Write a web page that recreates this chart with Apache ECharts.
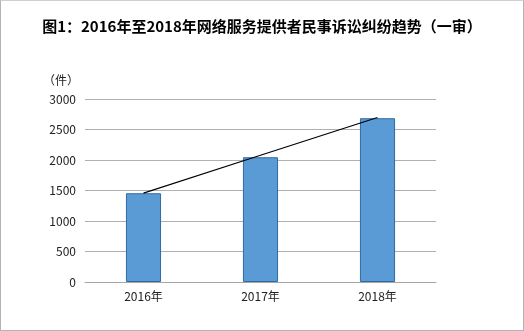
<!DOCTYPE html>
<html><head><meta charset="utf-8">
<script src="https://cdn.jsdelivr.net/npm/echarts@6/dist/echarts.min.js"></script>
<style>html,body{margin:0;padding:0;background:#fff}#c{width:524px;height:331px;box-sizing:border-box;border:1px solid #b4b4b4;border-top-color:#d0d0d0}</style>
</head><body><div id="c"></div>
<script>
const categories = ['2016年', '2017年', '2018年'];
const caseCounts = [1455, 2045, 2685];
const trendValues = [1458, 2078, 2697];
const yTicks = { min: 0, max: 3000, interval: 500 };
const titleText = '图1：2016年至2018年网络服务提供者民事诉讼纠纷趋势（一审）';
const unitLabel = '（件）';

const chart = echarts.init(document.getElementById('c'), null, {renderer: 'canvas'});
const font = '"Noto Sans CJK SC", "Noto Sans", sans-serif';
chart.setOption({
  animation: false,
  title: { text: titleText, left: 'center', top: 13,
    textStyle: { fontFamily: font, fontSize: 15, fontWeight: 'bold', color: '#000' } },
  grid: { left: 84, right: 87, top: 98, bottom: 48 },
  xAxis: { type: 'category', data: categories,
    axisLine: { lineStyle: { color: '#a6a6a6' } }, axisTick: { show: false },
    axisLabel: { color: '#222', fontFamily: font, fontSize: 12, margin: 8 } },
  yAxis: { type: 'value', min: yTicks.min, max: yTicks.max, interval: yTicks.interval,
    name: unitLabel, nameLocation: 'end', nameGap: 13,
    nameTextStyle: { color: '#222', fontFamily: font, fontSize: 12, align: 'right', padding: [0, 6, 0, 0] },
    axisLine: { show: false }, axisTick: { show: false },
    axisLabel: { color: '#222', fontFamily: font, fontSize: 12, margin: 9, formatter: v => String(v) },
    splitLine: { lineStyle: { color: '#b0b0b0' } } },
  series: [
    { type: 'bar', data: caseCounts, barWidth: '30%',
      itemStyle: { color: '#5b9bd5', borderColor: '#2f6aa6', borderWidth: 1 } },
    { type: 'line', data: trendValues, symbol: 'none', z: 5,
      lineStyle: { color: '#000', width: 1.2 } }
  ]
});
</script></body></html>
